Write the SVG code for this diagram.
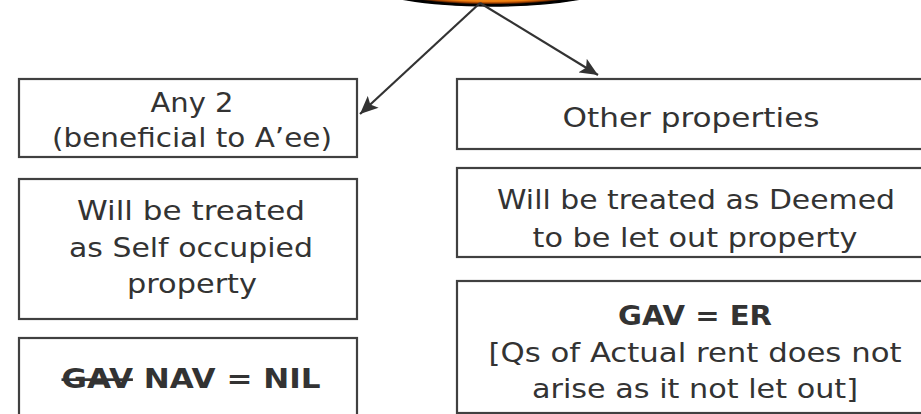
<svg xmlns="http://www.w3.org/2000/svg" width="921" height="414" viewBox="0 0 921 414">
<style>
  .box { fill: #ffffff; stroke: #404040; stroke-width: 2.2; }
  .t { font-family: "DejaVu Sans", "Liberation Sans", sans-serif; font-size: 27px; fill: #333333; text-anchor: middle; }
  .b { font-weight: bold; }
  .edge { stroke: #333333; stroke-width: 2.2; fill: none; marker-end: url(#arr); }
</style>
<defs>
  <radialGradient id="og" cx="50%" cy="50%" r="50%">
    <stop offset="0" stop-color="#ffb040"/>
    <stop offset="0.78" stop-color="#f08010"/>
    <stop offset="0.86" stop-color="#a04000"/>
    <stop offset="0.93" stop-color="#000000"/>
    <stop offset="1" stop-color="#000000"/>
  </radialGradient>
  <marker id="arr" markerUnits="userSpaceOnUse" markerWidth="20" markerHeight="16" viewBox="0 0 20 16" refX="18" refY="8" orient="auto">
    <path d="M0,0 L18,8 L0,16 L4,8 z" fill="#333333"/>
  </marker>
</defs>
<rect width="921" height="414" fill="#ffffff"/>

<g id="root">
  <ellipse cx="491" cy="-15" rx="120" ry="21" fill="url(#og)" stroke="#000000" stroke-width="1.5"/>
</g>

<g id="connectors">
  <line class="edge" x1="480" y1="3" x2="360" y2="114"/>
  <line class="edge" x1="480" y1="3" x2="598" y2="75"/>
</g>

<g id="left1">
  <rect class="box" x="19" y="79" width="338" height="78"/>
  <text class="t" x="192" y="112" textLength="83" lengthAdjust="spacingAndGlyphs">Any 2</text>
  <text class="t" x="192" y="147" textLength="280" lengthAdjust="spacingAndGlyphs">(beneficial to A’ee)</text>
</g>

<g id="left2">
  <rect class="box" x="19" y="179" width="338" height="140"/>
  <text class="t" x="191" y="220" textLength="228" lengthAdjust="spacingAndGlyphs">Will be treated</text>
  <text class="t" x="191" y="257" textLength="244" lengthAdjust="spacingAndGlyphs">as Self occupied</text>
  <text class="t" x="192" y="293" textLength="130" lengthAdjust="spacingAndGlyphs">property</text>
</g>

<g id="left3">
  <rect class="box" x="19" y="338" width="338" height="90"/>
  <text class="t b" x="191" y="388" textLength="259" lengthAdjust="spacingAndGlyphs"><tspan text-decoration="line-through">GAV</tspan> NAV = NIL</text>
</g>

<g id="right1">
  <rect class="box" x="457" y="79" width="476" height="70"/>
  <text class="t" x="691" y="127" textLength="257" lengthAdjust="spacingAndGlyphs">Other properties</text>
</g>

<g id="right2">
  <rect class="box" x="457" y="168" width="476" height="89"/>
  <text class="t" x="696" y="209" textLength="398" lengthAdjust="spacingAndGlyphs">Will be treated as Deemed</text>
  <text class="t" x="695" y="247" textLength="325" lengthAdjust="spacingAndGlyphs">to be let out property</text>
</g>

<g id="right3">
  <rect class="box" x="457" y="281" width="476" height="132"/>
  <text class="t b" x="695" y="325" textLength="154" lengthAdjust="spacingAndGlyphs">GAV = ER</text>
  <text class="t" x="695" y="362" textLength="413" lengthAdjust="spacingAndGlyphs">[Qs of Actual rent does not</text>
  <text class="t" x="695" y="398" textLength="326" lengthAdjust="spacingAndGlyphs">arise as it not let out]</text>
</g>
</svg>
